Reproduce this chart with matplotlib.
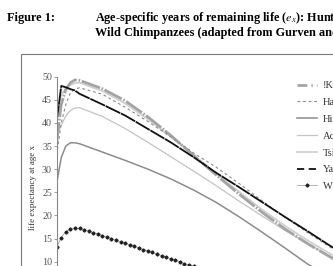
import numpy as np
import matplotlib
matplotlib.use('Agg')
import matplotlib.pyplot as plt
from matplotlib.lines import Line2D
from matplotlib.patches import Rectangle

plt.rcParams['font.family'] = ['Liberation Serif', 'DejaVu Serif']
plt.rcParams['mathtext.fontset'] = 'stix'

# data
ages = [0, 1, 2, 3, 4, 5, 10, 15, 20, 25, 30, 35, 40, 45, 50, 55, 60, 65, 70]
kung = [36.0, 44.0, 47.2, 48.7, 49.3, 49.2, 47.4, 44.8, 41.3, 37.3, 33.0, 28.7, 24.6, 20.7, 17.1, 13.9, 11.0, 8.4, 6.2]
hadza = [33.0, 40.0, 44.0, 46.5, 47.3, 47.6, 46.2, 43.4, 40.3, 37.0, 33.5, 30.4, 26.9, 23.2, 19.6, 16.3, 13.1, 10.2, 7.8]
hiwi = [27.0, 32.5, 35.0, 35.7, 35.7, 35.5, 33.7, 31.9, 30.0, 27.9, 25.5, 22.8, 19.7, 16.4, 13.0, 9.5, 6.5, 4.0, 2.5]
ache = [37.0, 39.5, 41.5, 42.7, 43.2, 43.3, 41.4, 38.8, 35.8, 32.7, 29.6, 26.4, 23.1, 19.9, 16.8, 13.9, 11.2, 8.6, 6.5]
tsimane = [42.0, 46.0, 47.5, 48.2, 48.6, 48.7, 46.9, 44.2, 40.8, 37.0, 33.0, 29.0, 25.1, 21.3, 17.8, 14.6, 11.7, 9.0, 6.8]
yanomamo = [40.3, 48.0, 47.7, 47.3, 47.0, 46.3, 44.0, 41.6, 38.7, 35.8, 32.6, 29.2, 26.1, 22.9, 19.7, 16.6, 13.4, 10.5, 8.0]

chimp_ages = list(range(41))
chimp = [13.1, 15.2, 16.5, 17.0, 17.2, 17.2, 16.9, 16.6, 16.3, 16.0,
         15.6, 15.3, 15.0, 14.6, 14.3, 14.0, 13.6, 13.3, 13.0, 12.6,
         12.3, 12.0, 11.6, 11.3, 11.0, 10.6, 10.3, 10.0, 9.6, 9.3,
         9.0, 8.7, 8.4, 8.1, 7.8, 7.5, 7.2, 6.9, 6.6, 6.3, 6.0]

labels = ['!Kung', 'Hadza', 'Hiwi', 'Ache', 'Tsimane', 'Yanomamo', 'Wild Chimpanzees']
yticks = [0, 5, 10, 15, 20, 25, 30, 35, 40, 45, 50]

W, H = 333, 266
fig = plt.figure(figsize=(W / 100, H / 100), dpi=100)

# caption above the box
fig.text(7 / W, 1 - 18 / H, 'Figure 1:', fontsize=8.8, fontweight='bold', va='center', ha='left')
fig.text(95 / W, 1 - 18 / H, r'Age-specific years of remaining life ($e_x$): Hunter-gatherers and',
         fontsize=8.8, fontweight='bold', va='center', ha='left')
fig.text(95 / W, 1 - 33 / H, 'Wild Chimpanzees (adapted from Gurven and Kaplan 2007)',
         fontsize=8.8, fontweight='bold', va='center', ha='left')

# frame around the chart
fig.patches.append(Rectangle((20.7 / W, -0.5), 2.0, 1 - 54 / H + 0.5, transform=fig.transFigure,
                             fill=False, edgecolor='#777777', linewidth=0.8))

# axes (goes past the bottom/right edge of the picture)
px_year = 4.56
px_unit = 4.625
ax = fig.add_axes([56.7 / W, (H - 307.9) / H, 90 * px_year / W, 50 * px_unit / H])
ax.set_xlim(0, 90)
ax.set_ylim(0, 50)

ax.plot(ages, ache, color='#c4c4c4', lw=0.9)
ax.plot(ages, tsimane, color='#d0d0d0', lw=1.3)
ax.plot(ages, hiwi, color='#8c8c8c', lw=1.1)
ax.plot(ages, kung, color='#a4a4a4', lw=2.0, linestyle=(0, (7, 0.6, 0.6, 0.6)))
ax.plot(ages, hadza, color='#8a8a8a', lw=0.8, linestyle=(0, (2.5, 2.5)))
ax.plot(ages, yanomamo, color='#111111', lw=1.3, linestyle=(0, (9, 0.4)))
ax.plot(chimp_ages, chimp, color='#999999', lw=0.5, marker='D', ms=1.6,
        mfc='#222222', mec='#222222')

for s in ['top', 'right', 'bottom']:
    ax.spines[s].set_visible(False)
ax.spines['left'].set_color('#8a8a8a')
ax.spines['left'].set_linewidth(0.8)
ax.set_xticks([])
ax.set_yticks(yticks)
ax.tick_params(axis='y', direction='out', length=2.2, width=0.6, color='#8a8a8a',
               labelcolor='#555555', labelsize=7.2, pad=1.2)

fig.text(33 / W, 1 - 188 / H, 'life expectancy at age x', rotation=90, fontsize=6.5,
         color='#333333', ha='center', va='center')

# legend
handles = [
    Line2D([], [], color='#a4a4a4', lw=2.0, linestyle=(0, (3.5, 1.5, 0.5, 1.5))),
    Line2D([], [], color='#8a8a8a', lw=0.8, linestyle=(0, (2.5, 2.5))),
    Line2D([], [], color='#8c8c8c', lw=1.1),
    Line2D([], [], color='#c4c4c4', lw=0.9),
    Line2D([], [], color='#d0d0d0', lw=1.3),
    Line2D([], [], color='#111111', lw=1.3, linestyle=(0, (4, 2.5))),
    Line2D([], [], color='#999999', lw=0.5, marker='D', ms=1.6, mfc='#222222', mec='#222222'),
]
fig.legend(handles, labels, loc='upper left', bbox_to_anchor=(296.7 / W, 1 - 81 / H),
           frameon=False, fontsize=7.6, borderpad=0, borderaxespad=0, handlelength=1.9,
           handletextpad=0.6, labelspacing=0.7, markerscale=1.0, labelcolor='#333333')

fig.savefig('out.png', dpi=100)
